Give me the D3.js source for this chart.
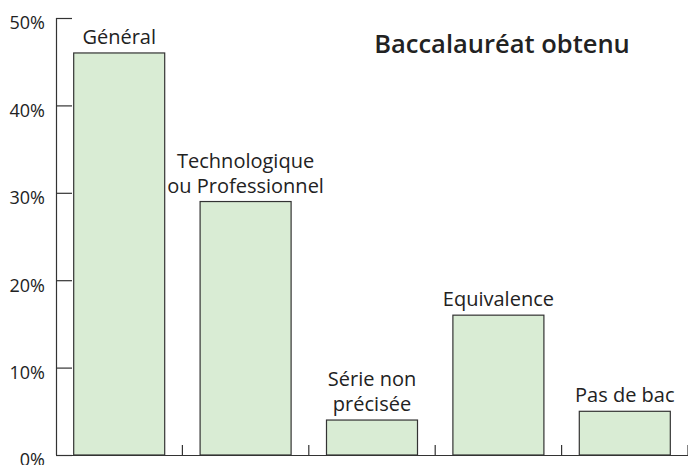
<!DOCTYPE html>
<html>
<head>
<meta charset="utf-8">
<script src="https://cdn.jsdelivr.net/npm/d3@7"></script>
<style>
  body { margin: 0; background: #fff; }
  text { font-family: "Open Sans", sans-serif; fill: #222; }
</style>
</head>
<body>
<svg id="chart" width="688" height="465"></svg>
<script>
// Data
var categories = ['Général', 'Technologique\nou Professionnel', 'Série non\nprécisée', 'Equivalence', 'Pas de bac'];
var values = [46, 29, 4, 16, 5];
var yTicks = [0, 10, 20, 30, 40, 50];
var title = 'Baccalauréat obtenu';

var svg = d3.select('#chart');

var x = d3.scaleBand()
  .domain(categories)
  .range([56, 688])
  .paddingInner(0.28)
  .paddingOuter(0.14);

var y = d3.scaleLinear()
  .domain([0, 50])
  .range([455, 18]);

// Bars
svg.selectAll('.bar')
  .data(values)
  .enter().append('rect')
  .attr('class', 'bar')
  .attr('x', function(d, i) { return x(categories[i]); })
  .attr('y', function(d) { return y(d); })
  .attr('width', x.bandwidth())
  .attr('height', function(d) { return y(0) - y(d); })
  .style('fill', '#d9ecd4')
  .style('stroke', '#333')
  .style('stroke-width', 1.2);

// Y axis (ticks point inward)
var yAxis = svg.append('g')
  .attr('transform', 'translate(56,0)')
  .call(d3.axisRight(y).tickValues(yTicks).tickSize(16).tickFormat(''));
yAxis.select('.domain').attr('d', 'M0.5,' + y(50) + 'V' + y(0)).style('stroke', '#333').style('stroke-width', 1.2);
yAxis.selectAll('.tick line').style('stroke', '#333').style('stroke-width', 1.2);

// tick labels sit a little below their tick (0% is clipped by the frame, as in the original)
svg.selectAll('.ylab')
  .data(yTicks)
  .enter().append('text')
  .attr('class', 'ylab')
  .attr('x', 45)
  .attr('y', function(d) { return y(d) + 5; })
  .attr('dy', '0.36em')
  .attr('text-anchor', 'end')
  .style('font-size', '18px')
  .text(function(d) { return d + '%'; });

// X axis: baseline with small separators between categories
var step = x.step();
var seps = d3.range(1, categories.length + 1).map(function(i) { return 56 + i * step; });
svg.append('line')
  .attr('x1', 56).attr('x2', 688)
  .attr('y1', y(0) + 0.5).attr('y2', y(0) + 0.5)
  .style('stroke', '#333').style('stroke-width', 1.2);
svg.selectAll('.sep')
  .data(seps)
  .enter().append('line')
  .attr('class', 'sep')
  .attr('x1', function(d) { return d; }).attr('x2', function(d) { return d; })
  .attr('y1', y(0)).attr('y2', y(0) - 10)
  .style('stroke', '#333').style('stroke-width', 1.2);

// Category labels above bars
svg.selectAll('.clab')
  .data(categories)
  .enter().append('text')
  .attr('class', 'clab')
  .attr('text-anchor', 'middle')
  .style('font-size', '20px')
  .each(function(d, i) {
    var lines = d.split('\n');
    var t = d3.select(this);
    var cx = x(d) + x.bandwidth() / 2;
    var base = y(values[i]) - 9;
    lines.forEach(function(l, j) {
      t.append('tspan')
        .attr('x', cx)
        .attr('y', base - (lines.length - 1 - j) * 25)
        .text(l);
    });
  });

// Title
svg.append('text')
  .attr('x', 502)
  .attr('y', 53)
  .attr('text-anchor', 'middle')
  .style('font-size', '25.5px')
  .style('font-weight', '600')
  .text(title);
</script>
</body>
</html>
